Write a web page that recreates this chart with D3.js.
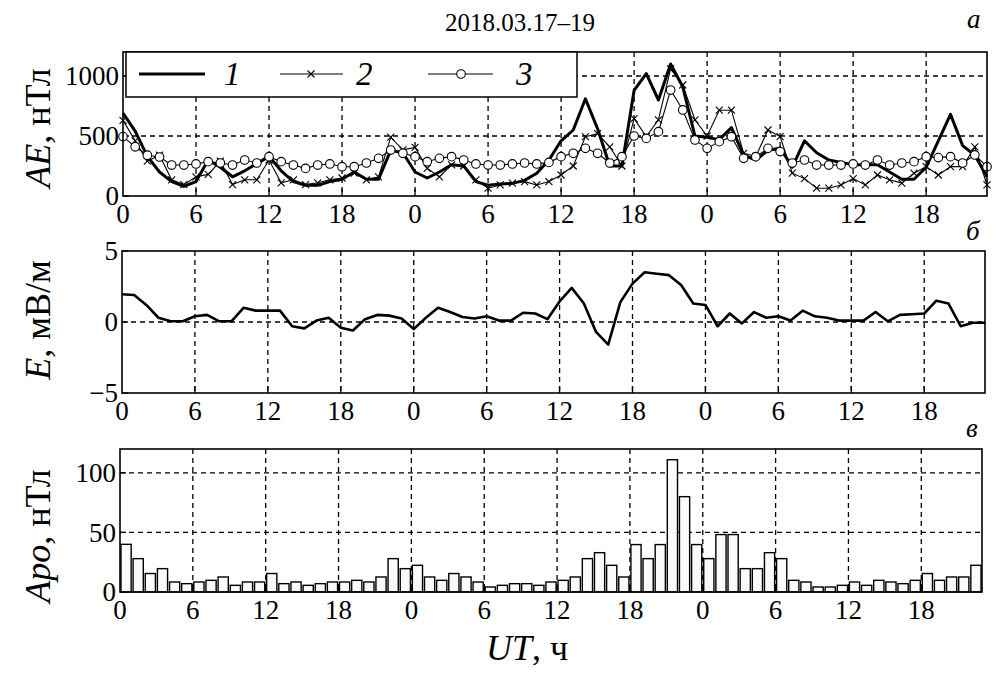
<!DOCTYPE html>
<html>
<head>
<meta charset="utf-8">
<script src="https://cdn.jsdelivr.net/npm/d3@7"></script>
<style>
  html, body { margin: 0; padding: 0; background: #ffffff; }
  svg { display: block; }
  svg text { font-family: "Liberation Serif", "DejaVu Serif", "Noto Serif", "Times New Roman", serif; fill: #000; }
</style>
</head>
<body>
<svg id="chart" width="1008" height="685"></svg>
<script>
// ---------- DATA ----------
const title = "2018.03.17–19";
const tickHours = [0, 6, 12, 18, 24, 30, 36, 42, 48, 54, 60, 66];
const tickLabels = ["0", "6", "12", "18", "0", "6", "12", "18", "0", "6", "12", "18"];

// AE, nT (hourly, 0..71 h)
const ae1 = [690, 540, 330, 200, 120, 80, 120, 300, 240, 160, 210, 270,
             330, 210, 120, 90, 90, 120, 140, 200, 140, 140, 380, 360,
             200, 150, 200, 260, 250, 120, 90, 100, 105, 130, 190, 300,
             460, 550, 810, 560, 250, 250, 880, 1020, 800, 1100, 910, 500,
             490, 470, 570, 340, 300, 380, 400, 240, 460, 360, 300, 280,
             260, 260, 260, 200, 140, 140, 240, 460, 680, 420, 340, 160];
const ae2 = [630, 460, 290, 340, 135, 95, 160, 180, 290, 95, 135, 135,
             300, 110, 135, 95, 110, 135, 150, 190, 135, 160, 490, 385,
             405, 230, 160, 260, 250, 135, 65, 92, 108, 120, 92, 120,
             175, 250, 495, 520, 410, 250, 645, 495, 635, 1060, 925, 635,
             500, 715, 715, 355, 330, 550, 495, 190, 145, 65, 65, 92,
             145, 92, 175, 135, 108, 190, 245, 175, 245, 245, 410, 92];
const ae3 = [495, 410, 340, 325, 258, 258, 267, 286, 275, 258, 300, 275,
             328, 286, 258, 230, 258, 267, 244, 244, 275, 314, 383, 356,
             328, 286, 314, 328, 300, 267, 258, 258, 267, 275, 267, 280,
             328, 356, 397, 356, 275, 328, 500, 480, 536, 883, 717, 467,
             397, 453, 494, 314, 328, 397, 370, 275, 300, 258, 258, 258,
             267, 258, 300, 258, 275, 286, 328, 320, 328, 275, 342, 244];
const aeTicks = [0, 500, 1000];

// E, mV/m (hourly, 0..71 h)
const eField = [1.95, 1.9, 1.2, 0.3, 0.05, 0.05, 0.4, 0.5, 0.05, 0.05, 1.0, 0.8,
                0.8, 0.8, -0.3, -0.45, 0.1, 0.3, -0.4, -0.6, 0.2, 0.5, 0.45, 0.25,
                -0.5, 0.3, 1.0, 0.7, 0.35, 0.25, 0.4, 0.1, 0.1, 0.65, 0.6, 0.2,
                1.45, 2.4, 1.3, -0.7, -1.6, 1.4, 2.7, 3.5, 3.4, 3.3, 2.6, 1.3,
                1.2, -0.3, 0.6, -0.1, 0.7, 0.3, 0.4, 0.1, 0.8, 0.4, 0.3, 0.1,
                0.1, 0.1, 0.7, 0.05, 0.5, 0.55, 0.6, 1.5, 1.3, -0.3, -0.05, -0.05];
const eTicks = [-5, 0, 5];
const eTickLabels = ["−5", "0", "5"];

// Apo, nT (hourly bars, 71 values)
const apo = [40, 28, 15.5, 19.6, 8.4, 7, 8.4, 9.8, 12.6, 5.6, 8.4, 8.4,
             15.5, 7, 8.4, 5.6, 7, 8.4, 8.4, 9.8, 8.4, 12.6, 28, 19.6,
             22.4, 12.6, 9.8, 15.5, 12.6, 8.4, 4.2, 5.6, 7, 7, 5.6, 8.4,
             9.8, 12.6, 28, 33, 22.4, 12.6, 39.8, 28, 39.8, 111, 80, 39.8,
             28, 48.2, 48.2, 19.6, 19.6, 33, 28, 9.8, 8.4, 4.2, 4.2, 5.6,
             8.4, 5.6, 9.8, 8.4, 7, 9.8, 15.5, 9.8, 12.6, 12.6, 22.4];
const apoTicks = [0, 50, 100];

// ---------- DRAW ----------
const FONT = '"Liberation Serif", "DejaVu Serif", "Noto Serif", "Times New Roman", serif';
const svg = d3.select("#chart").attr("font-family", FONT);
svg.append("rect").attr("width", 1008).attr("height", 685).attr("fill", "#fff");

const panels = [
  { x0: 123, x1: 987, yTop: 52,  yBot: 196 },
  { x0: 122, x1: 985, yTop: 251, yBot: 393 },
  { x0: 120, x1: 982, yTop: 449, yBot: 592 }
];
const hourDomain = [0, 71];

function drawFrame(p, x, y, yTicks, yLabels, hGrid) {
  const g = svg.append("g");
  g.selectAll(".vg").data(tickHours.filter(h => h > 0)).join("line")
    .attr("x1", d => x(d)).attr("x2", d => x(d))
    .attr("y1", p.yTop).attr("y2", p.yBot)
    .attr("stroke", "#000").attr("stroke-width", 1.3).attr("stroke-dasharray", "5,4");
  g.selectAll(".hg").data(hGrid).join("line")
    .attr("x1", p.x0).attr("x2", p.x1)
    .attr("y1", d => y(d)).attr("y2", d => y(d))
    .attr("stroke", "#000").attr("stroke-width", 1.3).attr("stroke-dasharray", "5,4");
  g.selectAll(".bt").data(tickHours.filter(h => h > 0)).join("line")
    .attr("x1", d => x(d)).attr("x2", d => x(d))
    .attr("y1", p.yBot).attr("y2", p.yBot - 7)
    .attr("stroke", "#000").attr("stroke-width", 1.3);
  g.selectAll(".lt").data(yTicks).join("line")
    .attr("x1", p.x0).attr("x2", p.x0 + 6)
    .attr("y1", d => y(d)).attr("y2", d => y(d))
    .attr("stroke", "#000").attr("stroke-width", 1.3);
  g.selectAll(".xl").data(tickHours).join("text")
    .attr("x", d => x(d)).attr("y", p.yBot + 27)
    .attr("text-anchor", "middle").attr("font-size", 27).attr("font-family", FONT)
    .text((d, i) => tickLabels[i]);
  g.selectAll(".yl").data(yTicks).join("text")
    .attr("x", p.x0 - 4).attr("y", d => y(d)).attr("dy", "0.35em")
    .attr("text-anchor", "end").attr("font-size", 27).attr("font-family", FONT)
    .text((d, i) => yLabels[i]);
  return g;
}

function drawBorder(p) {
  svg.append("rect").attr("x", p.x0).attr("y", p.yTop)
    .attr("width", p.x1 - p.x0).attr("height", p.yBot - p.yTop)
    .attr("fill", "none").attr("stroke", "#000").attr("stroke-width", 1.6);
}

// ---- Panel a: AE ----
{
  const p = panels[0];
  const x = d3.scaleLinear().domain(hourDomain).range([p.x0, p.x1]);
  const y = d3.scaleLinear().domain([0, 1200]).range([p.yBot, p.yTop]);
  drawFrame(p, x, y, aeTicks, aeTicks.map(String), [500, 1000]);
  const line = d3.line().x((d, i) => x(i)).y(d => y(d));

  svg.append("path").datum(ae3).attr("d", line)
    .attr("fill", "none").attr("stroke", "#000").attr("stroke-width", 1.1);
  svg.append("path").datum(ae2).attr("d", line)
    .attr("fill", "none").attr("stroke", "#000").attr("stroke-width", 1.1);
  svg.append("g").selectAll("path").data(ae2).join("path")
    .attr("d", "M-3.5,-3.5L3.5,3.5M-3.5,3.5L3.5,-3.5")
    .attr("transform", (d, i) => `translate(${x(i)},${y(d)})`)
    .attr("stroke", "#000").attr("stroke-width", 1.1).attr("fill", "none");
  svg.append("path").datum(ae1).attr("d", line)
    .attr("fill", "none").attr("stroke", "#000").attr("stroke-width", 3)
    .attr("stroke-linejoin", "round");
  svg.append("g").selectAll("circle").data(ae3).join("circle")
    .attr("cx", (d, i) => x(i)).attr("cy", d => y(d)).attr("r", 4.3)
    .attr("fill", "#fff").attr("stroke", "#000").attr("stroke-width", 1.1);

  drawBorder(p);

  const lg = svg.append("g");
  lg.append("rect").attr("x", 126).attr("y", p.yTop).attr("width", 451).attr("height", 45)
    .attr("fill", "#fff").attr("stroke", "#000").attr("stroke-width", 1.5);
  const ly = 74;
  lg.append("line").attr("x1", 139).attr("x2", 205).attr("y1", ly).attr("y2", ly)
    .attr("stroke", "#000").attr("stroke-width", 3);
  lg.append("line").attr("x1", 280).attr("x2", 343).attr("y1", ly).attr("y2", ly)
    .attr("stroke", "#000").attr("stroke-width", 1.1);
  lg.append("path").attr("d", "M-3.5,-3.5L3.5,3.5M-3.5,3.5L3.5,-3.5")
    .attr("transform", `translate(311,${ly})`).attr("stroke", "#000").attr("stroke-width", 1.1);
  lg.append("line").attr("x1", 428).attr("x2", 493).attr("y1", ly).attr("y2", ly)
    .attr("stroke", "#000").attr("stroke-width", 1.1);
  lg.append("circle").attr("cx", 461).attr("cy", ly).attr("r", 4.3)
    .attr("fill", "#fff").attr("stroke", "#000").attr("stroke-width", 1.1);
  [["1", 224], ["2", 356], ["3", 516]].forEach(([t, lx]) => {
    lg.append("text").attr("x", lx).attr("y", ly + 11).attr("font-size", 33)
      .attr("font-family", FONT).attr("font-style", "italic").text(t);
  });
}

// ---- Panel б: E ----
{
  const p = panels[1];
  const x = d3.scaleLinear().domain(hourDomain).range([p.x0, p.x1]);
  const y = d3.scaleLinear().domain([-5, 5]).range([p.yBot, p.yTop]);
  drawFrame(p, x, y, eTicks, eTickLabels, [0]);
  const line = d3.line().x((d, i) => x(i)).y(d => y(d));
  svg.append("path").datum(eField).attr("d", line)
    .attr("fill", "none").attr("stroke", "#000").attr("stroke-width", 2.6)
    .attr("stroke-linejoin", "round");
  drawBorder(p);
}

// ---- Panel в: Apo ----
{
  const p = panels[2];
  const x = d3.scaleLinear().domain(hourDomain).range([p.x0, p.x1]);
  const y = d3.scaleLinear().domain([0, 120]).range([p.yBot, p.yTop]);
  drawFrame(p, x, y, apoTicks, apoTicks.map(String), [50, 100]);
  const band = d3.scaleBand().domain(d3.range(apo.length)).range([p.x0, p.x1]).paddingInner(0.16).paddingOuter(0.08);
  svg.append("g").selectAll("rect").data(apo).join("rect")
    .attr("x", (d, i) => band(i)).attr("width", band.bandwidth())
    .attr("y", d => y(d)).attr("height", d => y(0) - y(d))
    .attr("fill", "#fafafa").attr("stroke", "#000").attr("stroke-width", 1.4);
  drawBorder(p);
}

// ---------- TEXT ----------
svg.append("text").attr("x", 520).attr("y", 31).attr("text-anchor", "middle")
  .attr("font-size", 25).attr("font-family", FONT).text(title);

[["а", 967, 28], ["б", 966, 240], ["в", 966, 437]].forEach(([t, lx, ly]) => {
  svg.append("text").attr("x", lx).attr("y", ly).attr("font-size", 27)
    .attr("font-family", FONT).attr("font-style", "italic").text(t);
});

function yTitle(cy, italicPart, rest) {
  const t = svg.append("text").attr("transform", `translate(50,${cy}) rotate(-90)`)
    .attr("text-anchor", "middle").attr("font-size", 36).attr("font-family", FONT);
  t.append("tspan").attr("font-style", "italic").text(italicPart);
  t.append("tspan").text(rest);
}
yTitle(128, "AE", ", нТл");
yTitle(320, "E", ", мВ/м");
yTitle(536, "Apo", ", нТл");

const xt = svg.append("text").attr("x", 527).attr("y", 660).attr("text-anchor", "middle")
  .attr("font-size", 36).attr("font-family", FONT);
xt.append("tspan").attr("font-style", "italic").text("UT");
xt.append("tspan").text(", ч");
</script>
</body>
</html>
